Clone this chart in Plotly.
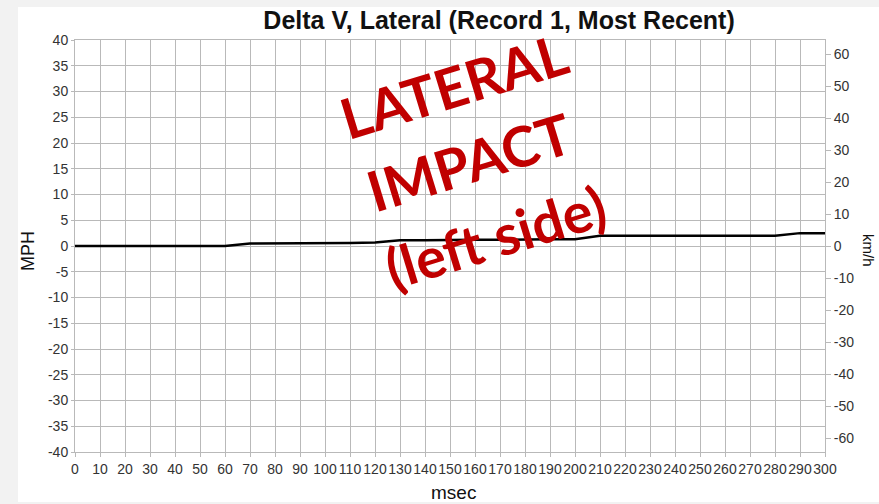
import plotly.graph_objects as go

# Lateral delta-V samples, one per 10 ms
msec = [0, 10, 20, 30, 40, 50, 60, 70, 80, 90, 100, 110, 120, 130, 140, 150,
        160, 170, 180, 190, 200, 210, 220, 230, 240, 250, 260, 270, 280, 290, 300]
delta_v_mph = [0, 0, 0, 0, 0, 0, 0, 0.5, 0.5, 0.6, 0.6, 0.6, 0.7, 1.1, 1.1, 1.2,
               1.2, 1.2, 1.3, 1.3, 1.3, 2.0, 2.0, 2.0, 2.0, 2.0, 2.0, 2.0, 2.0, 2.5, 2.5]

mph_ticks = list(range(-40, 45, 5))
kmh_ticks = list(range(-60, 70, 10))
x_ticks = list(range(0, 310, 10))

MPH_TO_KMH = 1.609344
MPH_RANGE = [-40, 40]

title_text = "Delta V, Lateral (Record 1, Most Recent)"
stamp_lines = ["LATERAL", "IMPACT", "(left side)"]

W, H = 879, 504
L, R, T, B = 75, 54, 40, 52

grid = "#b9b9b9"
tick_col = "#333333"

fig = go.Figure()
fig.add_trace(go.Scatter(
    x=msec, y=delta_v_mph, mode="lines",
    line=dict(color="#000000", width=2.5),
    showlegend=False, hoverinfo="x+y",
))
# same series in km/h on the secondary axis (kept invisible, it only anchors the axis)
fig.add_trace(go.Scatter(
    x=msec, y=[v * MPH_TO_KMH for v in delta_v_mph], yaxis="y2",
    mode="lines", line=dict(width=0, color="rgba(0,0,0,0)"),
    showlegend=False, hoverinfo="skip",
))

fig.update_layout(
    width=W, height=H,
    margin=dict(l=L, r=R, t=T, b=B, pad=0, autoexpand=False),
    paper_bgcolor="#f2f2f2",
    plot_bgcolor="#ffffff",
    font=dict(family="Liberation Sans, Arial, sans-serif", color=tick_col),
    title=dict(
        text="<b>" + title_text + "</b>",
        x=497 / W, xref="paper", xanchor="center",
        y=1 - 20 / H, yanchor="middle",
        font=dict(size=25, color="#111111"),
    ),
    xaxis=dict(
        range=[0, 300], tickvals=x_ticks, ticktext=[str(v) for v in x_ticks],
        tickangle=0, automargin=False,
        showgrid=True, gridcolor=grid, gridwidth=1,
        showline=True, linecolor=grid, mirror=True,
        ticks="outside", ticklen=4, tickcolor=grid,
        tickfont=dict(size=14, color=tick_col),
        zeroline=False,
    ),
    yaxis=dict(
        range=MPH_RANGE, tickvals=mph_ticks, ticktext=[str(v) for v in mph_ticks],
        automargin=False,
        showgrid=True, gridcolor=grid, gridwidth=1,
        showline=True, linecolor=grid, mirror=True,
        ticks="outside", ticklen=3, tickcolor=grid,
        tickfont=dict(size=14, color=tick_col),
        zeroline=False,
    ),
    yaxis2=dict(
        range=[MPH_RANGE[0] * MPH_TO_KMH, MPH_RANGE[1] * MPH_TO_KMH],
        overlaying="y", side="right", anchor="x", automargin=False,
        tickvals=kmh_ticks, ticktext=[str(v) for v in kmh_ticks],
        showgrid=False, zeroline=False, showline=False,
        ticks="outside", ticklen=5, tickcolor=grid,
        tickfont=dict(size=14, color=tick_col),
    ),
)

# white card behind the chart
fig.add_shape(
    type="rect", xref="paper", yref="paper", layer="below",
    x0=(18 - L) / (W - L - R), x1=(W - L) / (W - L - R),
    y0=(H - B - 502) / (H - T - B), y1=(H - B - 7) / (H - T - B),
    fillcolor="#ffffff", line=dict(width=0),
)

px_x = lambda px: (px - L) / (W - L - R)
px_y = lambda py: (H - B - py) / (H - T - B)

# axis titles
fig.add_annotation(
    text="MPH", xref="paper", yref="paper", x=px_x(28), y=px_y(251),
    xanchor="center", yanchor="middle",
    showarrow=False, textangle=-90, font=dict(size=18, color="#111111"),
)
fig.add_annotation(
    text="km/h", xref="paper", yref="paper", x=px_x(869), y=px_y(250),
    xanchor="center", yanchor="middle",
    showarrow=False, textangle=90, font=dict(size=15, color="#111111"),
)
fig.add_annotation(
    text="msec", xref="paper", yref="paper", x=px_x(453), y=px_y(492),
    xanchor="center", yanchor="middle",
    showarrow=False, font=dict(size=19, color="#111111"),
)

# red stamp across the plot, one annotation per line
stamp_centres = [(454, 86), (469, 161), (495, 236)]
for line_text, (cx, cy) in zip(stamp_lines, stamp_centres):
    fig.add_annotation(
        text="<b>" + line_text + "</b>", xref="paper", yref="paper",
        x=px_x(cx), y=px_y(cy), xanchor="center", yanchor="middle",
        showarrow=False, textangle=-17,
        font=dict(size=56, color="#c00000", family="Lato, Open Sans, sans-serif"),
    )

fig.write_html("out.html")
